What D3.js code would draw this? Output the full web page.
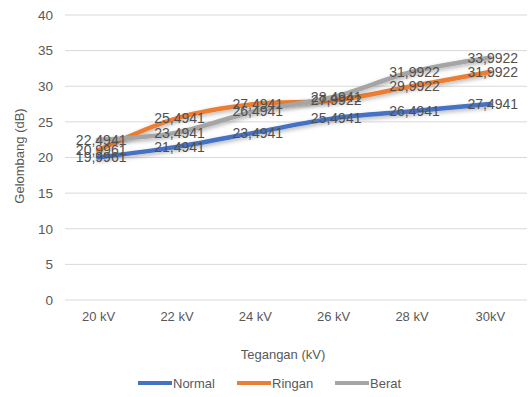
<!DOCTYPE html>
<html>
<head>
<meta charset="utf-8">
<script src="https://cdn.jsdelivr.net/npm/d3@7"></script>
<style>
  body { margin: 0; background: #fff; }
  svg { font-family: "Liberation Sans", "Open Sans", sans-serif; }
</style>
</head>
<body>
<svg id="chart" width="529" height="397"></svg>
<script>
// chart data
const categories = ["20 kV", "22 kV", "24 kV", "26 kV", "28 kV", "30kV"];
const normal = [19.9961, 21.4941, 23.4941, 25.4941, 26.4941, 27.4941];
const ringan = [20.9961, 25.4941, 27.4941, 27.9922, 29.9922, 31.9922];
const berat = [22.4941, 23.4941, 26.4941, 28.4941, 31.9922, 33.9922];
const yTicks = [0, 5, 10, 15, 20, 25, 30, 35, 40];

const series = [
  {name: "Normal", values: normal, color: "#4472C4"},
  {name: "Ringan", values: ringan, color: "#ED7D31"},
  {name: "Berat", values: berat, color: "#A5A5A5"}
];

const svg = d3.select("#chart");
const textColor = "#595959";

const x = d3.scalePoint().domain(categories).range([59, 529]).padding(0.5);
const y = d3.scaleLinear().domain([0, 40]).range([300, 15]);

// soft shadow under the lines
const defs = svg.append("defs");
const f = defs.append("filter").attr("id", "shadow")
  .attr("x", "-10%").attr("y", "-50%").attr("width", "120%").attr("height", "200%");
f.append("feDropShadow").attr("dx", 0).attr("dy", 2).attr("stdDeviation", 2)
  .attr("flood-color", "#000").attr("flood-opacity", 0.3);

// gridlines
svg.append("g").selectAll("line").data(yTicks).join("line")
  .attr("x1", 65).attr("x2", 527)
  .attr("y1", d => y(d)).attr("y2", d => y(d))
  .attr("stroke", "#D9D9D9").attr("stroke-width", 1);

// y axis labels
const yAxis = svg.append("g").attr("transform", "translate(53,0)")
  .call(d3.axisLeft(y).tickValues(yTicks).tickSize(0).tickPadding(0));
yAxis.select(".domain").remove();
yAxis.selectAll("text").attr("fill", textColor).style("font-size", "13.5px")
  .style("font-family", "'Liberation Sans', sans-serif");

// x axis labels
const xAxis = svg.append("g").attr("transform", "translate(0,300)")
  .call(d3.axisBottom(x).tickSize(0).tickPadding(12));
xAxis.select(".domain").remove();
xAxis.selectAll("text").attr("fill", textColor).style("font-size", "13px")
  .style("font-family", "'Liberation Sans', sans-serif");

// axis titles
svg.append("text")
  .attr("transform", "translate(24,156) rotate(-90)")
  .attr("text-anchor", "middle")
  .attr("fill", textColor).style("font-size", "13px")
  .text("Gelombang (dB)");

svg.append("text")
  .attr("x", 283).attr("y", 359)
  .attr("text-anchor", "middle")
  .attr("fill", textColor).style("font-size", "13px")
  .text("Tegangan (kV)");

// lines
const line = d3.line()
  .x((d, i) => x(categories[i]))
  .y(d => y(d))
  .curve(d3.curveCatmullRom.alpha(0.5));

svg.append("g").selectAll("path").data(series).join("path")
  .attr("d", d => line(d.values))
  .attr("fill", "none")
  .attr("stroke", d => d.color)
  .attr("stroke-width", 4.5)
  .attr("stroke-linecap", "round")
  .attr("filter", "url(#shadow)");

// data labels (centred on points, like the original)
const fmt = v => v.toFixed(4).replace(".", ",");
series.forEach(s => {
  svg.append("g").selectAll("text").data(s.values).join("text")
    .attr("x", (d, i) => x(categories[i]) + 3)
    .attr("y", d => y(d))
    .attr("dy", "0.35em")
    .attr("text-anchor", "middle")
    .attr("fill", "#505050")
    .style("font-size", "14px")
    .text(d => fmt(d));
});

// legend
const legendX = [138, 237, 335];
const legend = svg.append("g").selectAll("g").data(series).join("g")
  .attr("transform", (d, i) => `translate(${legendX[i]},383)`);
legend.append("line")
  .attr("x1", 0).attr("x2", 34)
  .attr("stroke", d => d.color).attr("stroke-width", 4);
legend.append("text")
  .attr("x", 35).attr("dy", "0.35em")
  .attr("fill", textColor).style("font-size", "13px")
  .text(d => d.name);
</script>
</body>
</html>
